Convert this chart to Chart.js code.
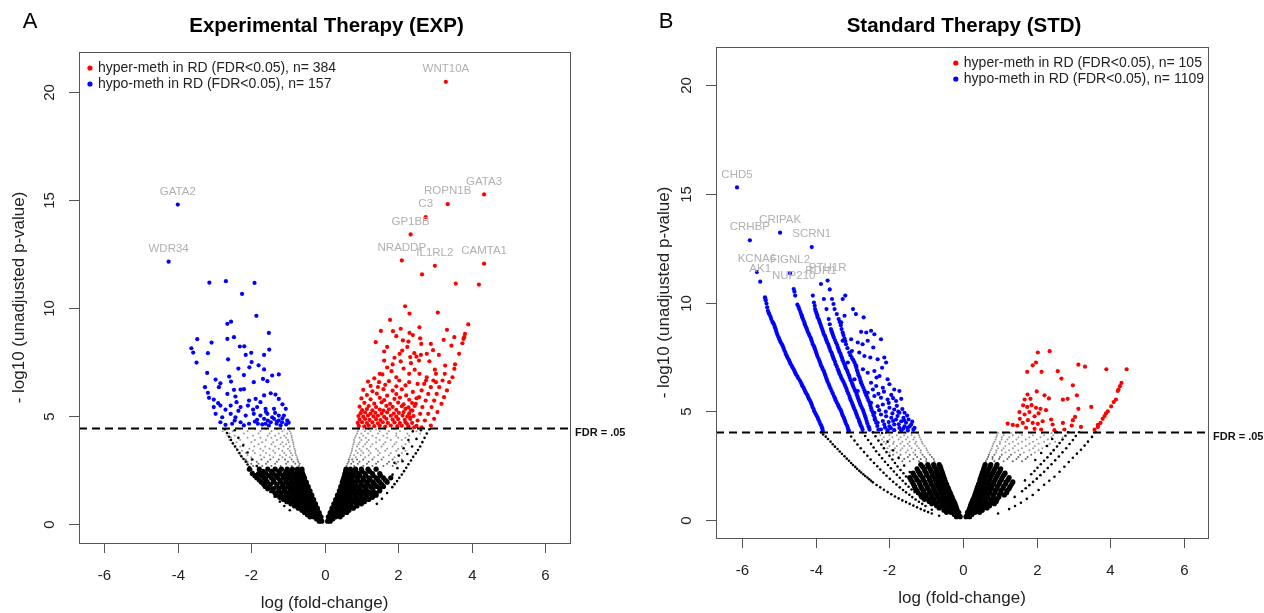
<!DOCTYPE html>
<html>
<head>
<meta charset="utf-8">
<script src="https://cdn.jsdelivr.net/npm/chart.js@4.4.1/dist/chart.umd.min.js"></script>
<style>
  html, body { margin: 0; padding: 0; background: #fff; }
  #wrap { position: relative; width: 1264px; height: 613px; }
  #expChart { position: absolute; left: 0; top: 0; }
  #stdChart { position: absolute; left: 640px; top: 0; }
</style>
</head>
<body>
<div id="wrap">
  <canvas id="expChart" width="640" height="613"></canvas>
  <canvas id="stdChart" width="624" height="613"></canvas>
</div>
<script>
// axis ticks
const xTickVals = [-6, -4, -2, 0, 2, 4, 6];
const yTickVals = [0, 5, 10, 15, 20];

// FDR cut-offs (-log10 p)
const expFdr = 4.45;
const stdFdr = 4.03;

const legendLabels = {
  exp: ["hyper-meth in RD (FDR<0.05), n= 384", "hypo-meth in RD (FDR<0.05), n= 157"],
  std: ["hyper-meth in RD (FDR<0.05), n= 105", "hypo-meth in RD (FDR<0.05), n= 1109"],
};

// labelled genes [name, logFC, -log10 p]
const expGenes = [
  ["WNT10A", 3.30, 20.45], ["GATA3", 4.34, 15.25], ["ROPN1B", 3.35, 14.8], ["C3", 2.75, 14.2],
  ["GP1BB", 2.34, 13.4], ["NRADDP", 2.10, 12.2], ["IL1RL2", 3.00, 11.95], ["CAMTA1", 4.34, 12.05],
  ["GATA2", -4.00, 14.78], ["WDR34", -4.25, 12.14],
];
const stdGenes = [
  ["CHD5", -6.14, 15.29], ["CRHBP", -5.79, 12.86], ["CRIPAK", -4.97, 13.21], ["SCRN1", -4.11, 12.55],
  ["KCNA6", -5.60, 11.40], ["AK1", -5.51, 10.96], ["FIGNL2", -4.70, 11.35], ["NUP210", -4.60, 10.62],
  ["RDH1", -3.86, 10.85], ["PTH1R", -3.68, 11.01],
];

// ---------- EXP ----------
const expHyper = [
  [3.30,20.45],[4.34,15.25],[3.35,14.8],[2.75,14.2],[2.34,13.4],[2.10,12.2],[3.00,11.95],[4.34,12.05],[2.65,11.55],[3.57,11.13],[4.20,11.08],
  [2.19,10.08],[2.31,9.74],[3.08,9.79],[1.78,9.45],[3.91,9.24],[1.53,8.94],[1.86,8.93],[2.07,9.04],[2.31,8.85],[2.58,9.11],[3.33,8.99],
  [1.39,8.42],[2.13,8.50],[2.28,8.45],[2.63,8.34],[2.89,8.34],[3.24,8.53],[3.45,8.26],[3.53,8.65],[3.80,8.65],[3.82,8.80],[3.78,8.57],[3.75,8.37],
  [1.62,7.99],[2.04,7.88],[2.11,8.03],[2.44,7.91],[2.62,7.83],[2.78,7.88],[3.11,7.83],[3.66,7.88],[1.62,7.57],[1.85,7.39],[2.07,7.53],
  [2.33,7.73],[2.35,7.45],[2.57,7.57],[2.85,7.54],[3.28,7.34],[3.55,7.39],[3.53,7.19],[1.50,6.96],[1.57,6.93],[1.82,7.08],[2.30,6.96],
  [2.58,6.96],[2.78,6.80],[1.18,6.60],[1.48,6.57],[1.75,6.62],[2.03,6.65],[2.30,6.57],[2.53,6.49],[2.76,6.65],[3.03,6.57],
  [3.48,6.80],[3.39,6.57],[3.33,6.19],[3.25,5.88],[3.18,5.57],[3.07,5.19],[2.98,4.88],[2.89,4.57],
  [3.27,6.96],[3.21,6.65],[3.12,6.34],[3.05,6.03],[2.98,5.72],[2.91,5.42],[2.82,5.11],[2.73,4.80],[2.64,4.49],
  [3.03,6.96],[2.96,6.65],[2.89,6.34],[2.82,6.03],[2.75,5.72],[2.66,5.42],[2.60,5.11],[2.53,4.80],[2.44,4.49],
  [2.71,6.49],[2.64,6.19],[2.57,5.88],[2.48,5.57],[2.39,5.26],[2.33,4.95],[2.24,4.65],
  [1.05,6.22],[1.30,6.15],[1.60,6.25],[1.85,6.18],[2.10,6.24],[2.40,6.12],
  [1.15,5.98],[1.42,6.04],[1.70,5.95],[1.95,6.02],[2.22,5.96],
  [1.00,5.82],[1.25,5.78],[1.50,5.85],[1.62,5.74],[1.90,5.80],[2.05,5.86],[2.30,5.76],[2.50,5.83],
  [1.08,5.62],[1.35,5.58],[1.55,5.64],[1.78,5.57],[2.00,5.63],[2.15,5.55],[2.38,5.61],
  [0.95,5.44],[1.20,5.47],[1.40,5.42],[1.68,5.48],[1.85,5.43],[2.10,5.46],[2.28,5.41],[2.45,5.47],
  [1.02,5.28],[1.15,5.33],[1.30,5.27],[1.50,5.31],[1.60,5.26],[1.75,5.32],[1.95,5.29],[2.20,5.34],[2.35,5.27],
  [0.98,5.14],[1.10,5.17],[1.25,5.12],[1.38,5.16],[1.55,5.13],[1.70,5.18],[1.88,5.12],[2.02,5.15],[2.15,5.19],[2.30,5.13],
  [0.92,5.01],[1.05,4.98],[1.18,5.03],[1.33,4.99],[1.45,5.02],[1.62,4.97],[1.80,5.02],[1.95,4.98],[2.12,5.03],[2.25,4.99],[2.42,5.01],
  [0.95,4.84],[1.10,4.87],[1.22,4.83],[1.40,4.86],[1.52,4.82],[1.68,4.88],[1.85,4.84],[2.00,4.86],[2.18,4.83],[2.33,4.87],
  [0.90,4.69],[1.02,4.72],[1.15,4.68],[1.30,4.71],[1.45,4.67],[1.58,4.72],[1.72,4.69],[1.90,4.71],[2.05,4.68],[2.20,4.72],[2.38,4.69],
  [0.93,4.55],[1.08,4.53],[1.20,4.57],[1.35,4.54],[1.50,4.56],[1.65,4.52],[1.80,4.57],[1.98,4.54],[2.10,4.56],[2.28,4.53],[2.50,4.55],
  [1.25,6.40],[1.45,6.35],[1.65,6.45],[1.95,6.38],[2.20,6.42],[1.35,6.75],[1.95,6.80],[2.15,7.20],[1.70,7.25],[2.45,7.15],
  [2.50,7.75],[1.90,7.70],[2.25,8.20],[2.60,8.60],[1.70,8.20],[2.95,8.05],[3.00,7.15],[2.40,8.75],[1.95,8.70],
];
const expHypo = [
  [-4.00,14.78],[-4.25,12.14],[-3.14,11.17],[-2.69,11.24],[-1.91,11.16],[-2.25,10.65],[-1.86,9.64],[-2.65,9.27],[-2.55,9.37],
  [-1.52,8.85],[-3.47,8.56],[-3.08,8.40],[-2.65,8.57],[-2.47,8.65],[-3.63,8.14],[-3.58,7.94],[-3.18,7.91],[-2.31,8.22],[-2.19,8.23],
  [-2.15,7.83],[-2.00,7.93],[-1.65,7.83],[-1.51,8.08],[-3.49,7.48],[-2.63,7.63],[-1.99,7.50],[-2.05,7.26],[-1.65,7.16],[-3.20,7.00],
  [-2.60,6.83],[-1.68,6.72],[-1.43,6.88],[-1.25,6.93],[-2.97,6.69],[-2.84,6.52],[-3.26,6.34],[-2.88,6.34],[-2.47,6.22],[-2.29,6.23],
  [-2.20,6.25],[-1.93,6.57],[-1.56,6.62],[-3.18,6.08],[-3.15,5.85],[-3.02,5.77],[-2.65,6.03],[-2.43,5.91],[-2.06,5.72],[-1.88,5.80],
  [-1.65,5.96],[-1.47,6.06],[-1.34,6.00],[-3.02,5.42],[-2.84,5.49],[-2.56,5.49],[-2.29,5.42],[-2.09,5.49],[-1.84,5.42],[-1.61,5.34],
  [-1.38,5.34],[-1.06,5.34],[-2.97,5.11],[-2.79,4.95],[-2.56,5.11],[-2.43,4.95],[-2.15,5.03],[-1.93,5.11],[-1.75,5.03],[-1.56,5.11],
  [-1.43,4.95],[-1.25,5.03],[-1.11,5.03],[-1.02,4.80],[-2.84,4.72],[-2.52,4.65],[-2.29,4.72],[-2.06,4.65],[-1.82,4.65],[-1.61,4.65],
  [-1.47,4.72],[-1.31,4.65],[-1.16,4.72],[-1.52,4.57],[-1.65,4.88],[-1.84,4.83],[-1.25,4.80],[-1.38,4.88],
  [-1.20,4.58],[-1.05,4.62],[-0.98,4.70],[-1.30,4.75],[-1.55,4.80],[-1.70,4.62],[-1.90,4.75],[-2.20,4.58],[-2.45,4.80],[-2.70,4.60],
  [-1.15,4.90],[-1.35,5.15],[-1.60,5.20],[-1.95,5.30],[-2.35,5.25],[-2.70,5.30],[-2.90,5.60],[-2.40,5.65],[-1.75,5.65],[-1.15,5.55],
  [-1.25,5.80],[-2.55,6.60],[-2.20,6.90],[-1.80,7.35],[-2.35,7.20],
];
const expEdge = [
  [-2.72,4.40],[-2.60,4.05],[-2.50,3.75],[-2.38,3.45],[-2.27,3.15],[-2.15,2.90],[-2.05,2.65],[-1.95,2.42],[-1.84,2.18],[-1.72,1.95],
  [-1.60,1.72],[-1.48,1.50],[-1.36,1.28],[-1.22,1.05],[-1.10,0.85],[-0.95,0.65],
  [-2.45,4.35],[-2.35,4.00],[-2.22,3.65],[-2.10,3.32],[-1.98,3.00],[-1.85,2.70],[-1.72,2.42],[-1.60,2.15],[-1.48,1.90],[-1.35,1.65],
  [-2.66,4.22],[-2.55,3.90],[-2.44,3.60],[-2.32,3.30],[-2.21,3.02],[-2.10,2.77],[-2.00,2.53],[-1.90,2.30],
  [2.85,4.40],[2.72,4.00],[2.60,3.60],[2.48,3.28],[2.35,2.95],[2.22,2.62],[2.10,2.30],[1.97,2.00],[1.84,1.72],[1.70,1.45],[1.56,1.18],[1.42,0.95],
  [2.62,4.35],[2.50,3.95],[2.38,3.60],[2.25,3.25],[2.12,2.92],[1.98,2.60],[1.85,2.30],[1.72,2.02],[1.58,1.75],
  [2.40,4.30],[2.28,3.90],[2.15,3.52],[2.02,3.18],[1.90,2.85],
  [2.78,4.20],[2.66,3.80],[2.54,3.44],[2.41,3.12],[2.28,2.78],[2.16,2.46],[2.03,2.15],[1.90,1.86],
];
const expCore = [
  [-0.08,0.15],[-0.15,0.15],
  [-0.10,0.35],[-0.20,0.35],[-0.30,0.35],[-0.40,0.35],
  [-0.15,0.55],[-0.25,0.55],[-0.35,0.55],[-0.45,0.55],[-0.55,0.55],
  [-0.20,0.75],[-0.30,0.75],[-0.40,0.75],[-0.50,0.75],[-0.60,0.75],[-0.72,0.75],
  [-0.25,0.95],[-0.35,0.95],[-0.45,0.95],[-0.55,0.95],[-0.65,0.95],[-0.78,0.95],[-0.92,0.95],
  [-0.30,1.15],[-0.40,1.15],[-0.50,1.15],[-0.60,1.15],[-0.72,1.15],[-0.85,1.15],[-1.00,1.15],[-1.12,1.15],
  [-0.35,1.35],[-0.45,1.35],[-0.55,1.35],[-0.65,1.35],[-0.77,1.35],[-0.90,1.35],[-1.05,1.35],[-1.20,1.35],[-1.32,1.35],
  [-0.40,1.55],[-0.50,1.55],[-0.60,1.55],[-0.70,1.55],[-0.82,1.55],[-0.95,1.55],[-1.10,1.55],[-1.25,1.55],[-1.42,1.55],
  [-0.45,1.75],[-0.55,1.75],[-0.65,1.75],[-0.76,1.75],[-0.88,1.75],[-1.00,1.75],[-1.15,1.75],[-1.30,1.75],[-1.50,1.75],[-1.62,1.75],
  [-0.50,1.95],[-0.60,1.95],[-0.70,1.95],[-0.80,1.95],[-0.92,1.95],[-1.05,1.95],[-1.20,1.95],[-1.38,1.95],[-1.56,1.95],[-1.72,1.95],
  [-0.55,2.15],[-0.65,2.15],[-0.75,2.15],[-0.86,2.15],[-1.00,2.15],[-1.12,2.15],[-1.28,2.15],[-1.45,2.15],[-1.65,2.15],[-1.85,2.15],
  [-0.60,2.35],[-0.70,2.35],[-0.82,2.35],[-0.95,2.35],[-1.08,2.35],[-1.22,2.35],[-1.40,2.35],[-1.60,2.35],[-1.80,2.35],[-1.97,2.35],
  [-0.62,2.55],[-0.74,2.55],[-0.88,2.55],[-1.02,2.55],[-1.18,2.55],[-1.35,2.55],[-1.55,2.55],[-1.78,2.55],[-2.05,2.55],
  [0.08,0.15],[0.15,0.15],
  [0.10,0.35],[0.20,0.35],[0.30,0.35],[0.42,0.35],
  [0.15,0.55],[0.25,0.55],[0.35,0.55],[0.47,0.55],[0.60,0.55],
  [0.20,0.75],[0.30,0.75],[0.40,0.75],[0.52,0.75],[0.65,0.75],[0.78,0.75],
  [0.25,0.95],[0.35,0.95],[0.46,0.95],[0.58,0.95],[0.70,0.95],[0.85,0.95],[1.00,0.95],
  [0.30,1.15],[0.40,1.15],[0.50,1.15],[0.62,1.15],[0.75,1.15],[0.90,1.15],[1.05,1.15],[1.20,1.15],
  [0.35,1.35],[0.45,1.35],[0.55,1.35],[0.68,1.35],[0.82,1.35],[0.97,1.35],[1.12,1.35],[1.28,1.35],[1.40,1.35],
  [0.40,1.55],[0.50,1.55],[0.60,1.55],[0.72,1.55],[0.86,1.55],[1.00,1.55],[1.16,1.55],[1.32,1.55],[1.50,1.55],
  [0.44,1.75],[0.54,1.75],[0.65,1.75],[0.78,1.75],[0.92,1.75],[1.08,1.75],[1.25,1.75],[1.42,1.75],[1.60,1.75],
  [0.48,1.95],[0.58,1.95],[0.70,1.95],[0.84,1.95],[0.98,1.95],[1.14,1.95],[1.32,1.95],[1.50,1.95],[1.70,1.95],
  [0.52,2.15],[0.62,2.15],[0.74,2.15],[0.88,2.15],[1.04,2.15],[1.20,2.15],[1.40,2.15],[1.60,2.15],[1.80,2.15],
  [0.55,2.35],[0.66,2.35],[0.78,2.35],[0.92,2.35],[1.10,2.35],[1.30,2.35],[1.50,2.35],
  [0.58,2.55],[0.70,2.55],[0.84,2.55],[1.00,2.55],[1.18,2.55],[1.40,2.55],
];
const expCoreMid = [
  [-0.12,0.25],[-0.22,0.25],
  [-0.15,0.45],[-0.25,0.45],[-0.36,0.45],[-0.47,0.45],
  [-0.20,0.65],[-0.30,0.65],[-0.40,0.65],[-0.50,0.65],[-0.62,0.65],
  [-0.25,0.85],[-0.35,0.85],[-0.45,0.85],[-0.56,0.85],[-0.68,0.85],[-0.82,0.85],
  [-0.30,1.05],[-0.40,1.05],[-0.50,1.05],[-0.62,1.05],[-0.74,1.05],[-0.88,1.05],[-1.03,1.05],
  [-0.35,1.25],[-0.45,1.25],[-0.55,1.25],[-0.67,1.25],[-0.80,1.25],[-0.95,1.25],[-1.10,1.25],[-1.22,1.25],
  [-0.40,1.45],[-0.50,1.45],[-0.62,1.45],[-0.74,1.45],[-0.88,1.45],[-1.02,1.45],[-1.18,1.45],[-1.35,1.45],
  [-0.45,1.65],[-0.55,1.65],[-0.66,1.65],[-0.78,1.65],[-0.92,1.65],[-1.08,1.65],[-1.24,1.65],[-1.40,1.65],[-1.55,1.65],
  [-0.50,1.85],[-0.60,1.85],[-0.72,1.85],[-0.85,1.85],[-0.98,1.85],[-1.13,1.85],[-1.30,1.85],[-1.48,1.85],[-1.66,1.85],
  [-0.55,2.05],[-0.66,2.05],[-0.78,2.05],[-0.92,2.05],[-1.06,2.05],[-1.22,2.05],[-1.40,2.05],[-1.60,2.05],[-1.78,2.05],
  [-0.58,2.25],[-0.70,2.25],[-0.83,2.25],[-0.97,2.25],[-1.14,2.25],[-1.32,2.25],[-1.52,2.25],[-1.72,2.25],[-1.90,2.25],
  [-0.62,2.45],[-0.75,2.45],[-0.90,2.45],[-1.05,2.45],[-1.25,2.45],[-1.45,2.45],[-1.68,2.45],
  [0.12,0.25],[0.22,0.25],
  [0.15,0.45],[0.25,0.45],[0.36,0.45],[0.48,0.45],
  [0.20,0.65],[0.30,0.65],[0.41,0.65],[0.53,0.65],[0.66,0.65],
  [0.25,0.85],[0.35,0.85],[0.46,0.85],[0.58,0.85],[0.72,0.85],[0.88,0.85],
  [0.30,1.05],[0.40,1.05],[0.52,1.05],[0.65,1.05],[0.80,1.05],[0.95,1.05],[1.08,1.05],
  [0.35,1.25],[0.45,1.25],[0.57,1.25],[0.70,1.25],[0.85,1.25],[1.00,1.25],[1.15,1.25],[1.30,1.25],
  [0.40,1.45],[0.50,1.45],[0.62,1.45],[0.76,1.45],[0.90,1.45],[1.06,1.45],[1.22,1.45],[1.40,1.45],
  [0.44,1.65],[0.55,1.65],[0.67,1.65],[0.80,1.65],[0.95,1.65],[1.12,1.65],[1.30,1.65],[1.50,1.65],
  [0.48,1.85],[0.58,1.85],[0.70,1.85],[0.84,1.85],[1.00,1.85],[1.18,1.85],[1.36,1.85],[1.55,1.85],
  [0.50,2.05],[0.62,2.05],[0.75,2.05],[0.90,2.05],[1.06,2.05],[1.24,2.05],[1.45,2.05],[1.65,2.05],
  [0.54,2.25],[0.66,2.25],[0.80,2.25],[0.95,2.25],[1.12,2.25],[1.32,2.25],[1.52,2.25],
  [0.57,2.45],[0.70,2.45],[0.85,2.45],[1.02,2.45],[1.22,2.45],
];
const expSparse = [
  [-0.70,2.7],[-0.90,2.7],[-1.20,2.7],[-1.45,2.7],[-1.70,2.7],[-1.95,2.7],
  [-0.72,2.9],[-0.85,2.9],[-1.00,2.9],[-1.30,2.9],[-1.55,2.9],[-1.85,2.9],[-2.10,2.9],
  [-0.75,3.1],[-0.95,3.1],[-1.15,3.1],[-1.40,3.1],[-1.65,3.1],[-2.00,3.1],[-2.25,3.1],
  [-0.80,3.3],[-0.92,3.3],[-1.10,3.3],[-1.35,3.3],[-1.60,3.3],[-1.90,3.3],[-2.15,3.3],[-2.35,3.3],
  [-0.82,3.5],[-1.00,3.5],[-1.25,3.5],[-1.50,3.5],[-1.75,3.5],[-2.05,3.5],[-2.40,3.5],
  [-0.85,3.7],[-1.05,3.7],[-1.20,3.7],[-1.45,3.7],[-1.80,3.7],[-2.20,3.7],[-2.50,3.7],
  [-0.88,3.9],[-1.00,3.9],[-1.30,3.9],[-1.60,3.9],[-1.90,3.9],[-2.30,3.9],[-2.60,3.9],
  [-0.90,4.1],[-1.10,4.1],[-1.35,4.1],[-1.55,4.1],[-1.95,4.1],[-2.45,4.1],[-2.65,4.1],
  [-0.95,4.3],[-1.15,4.3],[-1.45,4.3],[-1.75,4.3],[-2.10,4.3],[-2.50,4.3],[-2.78,4.3],
  [0.60,2.7],[0.80,2.7],[1.05,2.7],[1.30,2.7],[1.60,2.7],[1.85,2.7],
  [0.65,2.9],[0.78,2.9],[0.95,2.9],[1.20,2.9],[1.45,2.9],[1.75,2.9],[2.00,2.9],
  [0.68,3.1],[0.85,3.1],[1.10,3.1],[1.35,3.1],[1.60,3.1],[1.90,3.1],
  [0.72,3.3],[0.90,3.3],[1.05,3.3],[1.25,3.3],[1.50,3.3],[1.80,3.3],[2.10,3.3],
  [0.75,3.5],[0.95,3.5],[1.15,3.5],[1.40,3.5],[1.70,3.5],[2.00,3.5],
  [0.78,3.7],[0.92,3.7],[1.10,3.7],[1.30,3.7],[1.60,3.7],[1.90,3.7],[2.20,3.7],
  [0.80,3.9],[1.00,3.9],[1.20,3.9],[1.50,3.9],[1.80,3.9],[2.10,3.9],
  [0.85,4.1],[1.05,4.1],[1.30,4.1],[1.60,4.1],[1.95,4.1],[2.30,4.1],
  [0.90,4.3],[1.10,4.3],[1.25,4.3],[1.50,4.3],[1.75,4.3],[2.05,4.3],[2.50,4.3],
];
const expSparseMid = [
  [-0.68,2.8],[-0.80,2.8],[-1.05,2.8],[-1.35,2.8],[-1.60,2.8],[-1.80,2.8],[-2.00,2.8],
  [-0.74,3.0],[-0.90,3.0],[-1.08,3.0],[-1.25,3.0],[-1.48,3.0],[-1.72,3.0],[-1.95,3.0],[-2.15,3.0],
  [-0.78,3.2],[-0.88,3.2],[-1.05,3.2],[-1.22,3.2],[-1.50,3.2],[-1.75,3.2],[-2.10,3.2],[-2.30,3.2],
  [-0.80,3.4],[-0.95,3.4],[-1.15,3.4],[-1.40,3.4],[-1.68,3.4],[-1.95,3.4],[-2.25,3.4],
  [-0.84,3.6],[-0.95,3.6],[-1.12,3.6],[-1.35,3.6],[-1.62,3.6],[-1.92,3.6],[-2.30,3.6],[-2.45,3.6],
  [-0.86,3.8],[-0.98,3.8],[-1.15,3.8],[-1.40,3.8],[-1.70,3.8],[-2.00,3.8],[-2.40,3.8],
  [-0.90,4.0],[-1.05,4.0],[-1.20,4.0],[-1.45,4.0],[-1.75,4.0],[-2.10,4.0],[-2.35,4.0],[-2.55,4.0],
  [-0.92,4.2],[-1.02,4.2],[-1.25,4.2],[-1.50,4.2],[-1.80,4.2],[-2.20,4.2],[-2.60,4.2],
  [-0.98,4.4],[-1.10,4.4],[-1.30,4.4],[-1.60,4.4],[-1.90,4.4],[-2.30,4.4],[-2.65,4.4],
  [0.62,2.8],[0.72,2.8],[0.90,2.8],[1.15,2.8],[1.40,2.8],[1.70,2.8],[1.95,2.8],
  [0.66,3.0],[0.75,3.0],[0.88,3.0],[1.05,3.0],[1.30,3.0],[1.55,3.0],[1.85,3.0],[2.10,3.0],
  [0.70,3.2],[0.80,3.2],[0.98,3.2],[1.20,3.2],[1.45,3.2],[1.75,3.2],[2.00,3.2],
  [0.74,3.4],[0.85,3.4],[1.00,3.4],[1.20,3.4],[1.45,3.4],[1.65,3.4],[1.95,3.4],[2.20,3.4],
  [0.76,3.6],[0.88,3.6],[1.05,3.6],[1.25,3.6],[1.55,3.6],[1.85,3.6],[2.10,3.6],
  [0.80,3.8],[0.95,3.8],[1.15,3.8],[1.40,3.8],[1.65,3.8],[1.95,3.8],[2.30,3.8],
  [0.82,4.0],[0.95,4.0],[1.12,4.0],[1.40,4.0],[1.70,4.0],[2.00,4.0],[2.20,4.0],
  [0.88,4.2],[1.00,4.2],[1.18,4.2],[1.45,4.2],[1.70,4.2],[1.95,4.2],[2.25,4.2],[2.60,4.2],
  [0.92,4.4],[1.05,4.4],[1.20,4.4],[1.40,4.4],[1.65,4.4],[1.90,4.4],[2.20,4.4],[2.40,4.4],
];

// ---------- STD ----------
const stdHyper = [
  [2.03,7.70],[2.35,7.76],[1.98,7.24],[1.89,7.11],[1.74,6.81],[2.13,6.81],[3.13,7.14],[3.31,7.05],[3.89,6.93],[4.44,6.93],
  [2.57,6.84],[2.67,6.50],[2.98,6.19],[2.00,5.91],[1.75,5.77],[2.21,5.73],[2.33,5.59],[2.71,5.53],[2.84,5.57],[3.09,5.73],
  [4.22,6.00],[4.20,5.93],[4.15,5.54],[4.09,5.42],[1.67,5.54],[1.83,5.57],[1.63,5.27],[1.74,5.20],[1.86,5.28],[1.98,5.16],
  [2.10,5.11],[2.25,5.05],[3.13,5.11],[3.48,5.20],[3.93,5.00],[3.88,4.90],[3.79,4.65],[3.73,4.46],[3.66,4.28],[1.53,4.96],
  [1.67,4.85],[1.80,4.96],[1.94,4.77],[2.05,4.90],[1.54,4.65],[1.62,4.46],[1.76,4.59],[1.89,4.46],[2.03,4.42],[2.16,4.54],
  [2.39,4.62],[2.43,4.39],[2.71,4.46],[2.98,4.59],[3.04,4.74],[2.95,4.34],[3.20,4.28],[1.21,4.43],[1.35,4.37],[1.47,4.34],
  [1.71,4.24],[1.94,4.19],[2.12,4.16],[2.48,4.13],[2.75,4.16],[3.57,4.16],[3.66,4.37],[4.30,6.30],[4.26,6.15],[4.02,5.22],[3.84,4.78],
];
const stdHypo = [
  [-6.14,15.29],[-5.79,12.86],[-4.97,13.21],[-4.11,12.55],
  [-5.60,11.40],[-5.51,10.96],[-5.38,10.24],[-5.36,10.10],[-5.34,9.95],[-5.30,9.62],[-5.26,9.45],[-5.21,9.24],[-5.18,9.12],[-5.14,9.01],
  [-5.11,8.85],[-5.08,8.70],[-5.04,8.50],[-4.99,8.31],[-4.95,8.16],[-4.90,8.01],[-4.86,7.82],[-4.81,7.62],[-4.77,7.47],[-4.72,7.31],
  [-4.68,7.16],[-4.63,7.01],[-4.58,6.85],[-4.54,6.70],[-4.47,6.50],[-4.40,6.31],[-4.36,6.15],[-4.31,6.00],[-4.27,5.85],[-4.22,5.70],
  [-4.18,5.55],[-4.13,5.39],[-4.09,5.20],[-4.04,5.00],[-3.98,4.80],[-3.93,4.62],[-3.87,4.40],[-3.83,4.25],[-3.81,4.10],
  [-4.70,11.35],[-4.60,10.62],[-4.58,10.50],[-4.56,10.32],[-4.50,9.90],[-4.45,9.70],[-4.40,9.47],[-4.37,9.32],[-4.33,9.16],[-4.30,9.00],
  [-4.26,8.85],[-4.22,8.66],[-4.17,8.47],[-4.12,8.28],[-4.08,8.08],[-4.03,7.90],[-3.99,7.70],[-3.95,7.50],[-3.90,7.31],[-3.86,7.12],
  [-3.81,6.93],[-3.76,6.74],[-3.72,6.54],[-3.68,6.35],[-3.63,6.16],[-3.57,5.93],[-3.51,5.70],[-3.46,5.50],[-3.40,5.31],[-3.36,5.15],
  [-3.31,5.00],[-3.27,4.80],[-3.22,4.62],[-3.18,4.42],[-3.13,4.23],[-3.10,4.10],
  [-4.08,10.32],[-4.05,10.00],[-4.02,9.70],[-3.98,9.50],[-3.95,9.32],[-3.90,9.12],[-3.86,8.93],[-3.82,8.74],[-3.78,8.54],[-3.73,8.35],
  [-3.69,8.16],[-3.64,7.96],[-3.60,7.77],[-3.55,7.58],[-3.51,7.39],[-3.46,7.16],[-3.40,6.93],[-3.36,6.74],[-3.31,6.54],[-3.25,6.35],
  [-3.20,6.16],[-3.15,5.93],[-3.09,5.70],[-3.05,5.50],[-3.00,5.31],[-2.96,5.12],[-2.91,4.93],[-2.87,4.74],[-2.82,4.54],[-2.78,4.35],[-2.73,4.16],
  [-3.86,10.85],[-3.78,10.16],[-3.65,9.24],[-3.59,8.78],[-3.55,8.58],[-3.51,8.39],[-3.45,8.15],[-3.40,7.93],[-3.36,7.74],[-3.31,7.54],
  [-3.27,7.35],[-3.22,7.16],[-3.18,6.96],[-3.13,6.77],[-3.08,6.54],[-3.02,6.31],[-2.98,6.12],[-2.93,5.93],[-2.88,5.74],[-2.84,5.54],
  [-2.80,5.35],[-2.75,5.16],[-2.70,4.96],[-2.66,4.77],[-2.62,4.55],[-2.57,4.31],[-2.54,4.15],
  [-3.68,11.01],[-3.56,10.16],[-3.49,9.70],[-3.38,9.24],[-3.32,8.95],[-3.27,8.62],[-3.22,8.35],[-3.18,8.08],[-3.09,7.70],[-3.02,7.45],
  [-2.95,7.24],[-2.90,7.00],[-2.86,6.77],[-2.81,6.55],[-2.77,6.31],[-2.71,6.08],[-2.66,5.85],[-2.60,5.62],[-2.54,5.39],[-2.50,5.15],
  [-2.45,4.93],[-2.40,4.70],[-2.36,4.47],[-2.30,4.16],
  [-3.20,10.32],[-3.27,10.16],[-2.99,9.70],[-2.91,9.47],[-2.70,9.32],[-3.22,9.39],[-3.31,9.09],[-2.77,8.65],[-2.63,8.62],[-2.50,8.70],
  [-2.41,8.54],[-2.23,8.31],[-3.27,8.24],[-3.04,8.31],[-2.86,8.16],[-2.73,8.08],[-2.59,8.24],[-2.44,7.93],[-3.02,7.77],[-2.82,7.70],
  [-2.68,7.54],[-2.52,7.47],[-2.32,7.39],[-2.14,7.47],[-2.09,7.24],[-3.13,7.24],[-2.90,7.08],[-2.72,6.93],[-2.59,6.77],[-2.41,6.85],
  [-2.27,6.62],[-2.05,6.47],[-2.00,6.24],[-2.95,6.47],[-2.77,6.31],[-2.50,6.31],[-2.36,6.16],[-2.18,6.08],[-1.87,6.00],[-1.73,5.93],
  [-2.86,5.93],[-2.59,5.85],[-2.41,5.70],[-2.23,5.62],[-2.05,5.54],[-1.82,5.47],[-1.68,5.57],[-2.50,5.39],[-2.32,5.23],[-2.18,5.31],
  [-2.00,5.16],[-1.87,5.08],[-1.73,4.93],[-1.59,4.93],[-2.41,4.93],[-2.23,4.85],[-2.09,4.77],[-1.95,4.70],[-1.82,4.62],[-1.68,4.54],
  [-1.55,4.47],[-1.41,4.39],[-1.32,4.23],[-2.32,4.47],[-2.14,4.39],[-2.00,4.31],[-1.87,4.39],[-1.73,4.23],[-1.59,4.31],[-1.50,4.23],
  [-2.23,4.16],[-2.05,4.13],[-1.87,4.13],[-1.68,4.11],[-1.50,4.11],
  [-2.20,7.00],[-2.35,6.55],[-2.15,5.90],[-1.95,5.75],[-2.28,5.05],[-2.10,4.98],[-1.92,4.90],[-1.78,4.78],[-1.62,4.70],[-1.48,4.62],
  [-1.38,4.52],[-2.40,4.62],[-2.18,4.55],[-2.02,4.50],[-1.90,4.55],[-1.75,4.40],[-1.62,4.20],[-1.45,4.30],[-1.35,4.15],[-1.96,4.22],
  [-2.12,4.25],[-1.80,5.25],[-1.65,5.10],[-1.52,4.80],[-2.02,5.38],[-1.90,5.60],[-2.30,5.80],[-2.45,6.00],[-1.76,4.98],[-1.60,4.58],
];
const stdHypoMid = [
  [-5.37,10.17],[-5.32,9.78],[-5.28,9.53],[-5.23,9.34],[-5.16,9.06],[-5.12,8.93],[-5.09,8.78],[-5.06,8.60],[-5.01,8.40],[-4.97,8.23],
  [-4.92,8.08],[-4.88,7.92],[-4.83,7.72],[-4.79,7.55],[-4.74,7.39],[-4.70,7.24],[-4.65,7.08],[-4.60,6.93],[-4.56,6.78],[-4.50,6.60],
  [-4.43,6.40],[-4.38,6.23],[-4.33,6.08],[-4.29,5.92],[-4.24,5.78],[-4.20,5.62],[-4.15,5.47],[-4.11,5.30],[-4.06,5.10],[-4.01,4.90],
  [-3.95,4.71],[-3.90,4.51],[-3.85,4.33],[-3.82,4.18],
  [-4.47,9.80],[-4.42,9.58],[-4.38,9.40],[-4.35,9.24],[-4.31,9.08],[-4.28,8.92],[-4.24,8.76],[-4.19,8.56],[-4.14,8.38],[-4.10,8.18],
  [-4.05,7.99],[-4.01,7.80],[-3.97,7.60],[-3.92,7.40],[-3.88,7.22],[-3.83,7.02],[-3.78,6.84],[-3.74,6.64],[-3.70,6.45],[-3.65,6.25],
  [-3.60,6.05],[-3.54,5.82],[-3.48,5.60],[-3.43,5.40],[-3.38,5.23],[-3.33,5.08],[-3.29,4.90],[-3.24,4.71],[-3.20,4.52],[-3.15,4.33],[-3.12,4.16],
  [-4.03,9.85],[-4.00,9.60],[-3.96,9.41],[-3.92,9.22],[-3.88,9.03],[-3.84,8.84],[-3.80,8.64],[-3.75,8.45],[-3.71,8.26],[-3.66,8.06],
  [-3.62,7.87],[-3.57,7.68],[-3.53,7.48],[-3.48,7.28],[-3.43,7.05],[-3.38,6.84],[-3.33,6.64],[-3.28,6.45],[-3.22,6.25],[-3.17,6.05],
  [-3.12,5.82],[-3.07,5.60],[-3.02,5.40],[-2.98,5.22],[-2.93,5.03],[-2.89,4.84],[-2.84,4.64],[-2.80,4.45],[-2.75,4.26],
  [-3.71,9.70],[-3.62,9.00],[-3.57,8.68],[-3.53,8.48],[-3.48,8.27],[-3.42,8.04],[-3.38,7.84],[-3.33,7.64],[-3.29,7.45],[-3.25,7.26],
  [-3.20,7.06],[-3.15,6.87],[-3.10,6.66],[-3.05,6.43],[-3.00,6.22],[-2.95,6.02],[-2.90,5.84],[-2.86,5.64],[-2.82,5.45],[-2.78,5.26],
  [-2.72,5.06],[-2.68,4.87],[-2.64,4.66],[-2.60,4.43],[-2.55,4.23],
  [-3.62,10.60],[-3.52,9.93],[-3.43,9.47],[-3.35,9.10],[-3.30,8.78],[-3.25,8.50],[-3.20,8.22],[-3.14,7.90],[-3.06,7.58],[-2.98,7.35],
  [-2.92,7.12],[-2.88,6.88],[-2.84,6.66],[-2.79,6.43],[-2.74,6.20],[-2.68,5.96],[-2.63,5.74],[-2.57,5.50],[-2.52,5.27],[-2.48,5.04],
  [-2.43,4.82],[-2.38,4.58],[-2.33,4.32],
];
const stdEdge = [
  [-3.86,4.03],[-3.73,3.83],[-3.60,3.60],[-3.48,3.37],[-3.35,3.15],[-3.22,2.93],[-3.10,2.72],[-2.99,2.53],[-2.88,2.35],[-2.77,2.18],
  [-2.66,2.02],[-2.55,1.87],[-2.45,1.73],[-2.25,1.50],[-2.05,1.28],[-1.85,1.08],[-1.65,0.90],[-1.45,0.74],[-1.25,0.58],[-1.05,0.43],
  [-0.85,0.30],[-0.65,0.19],
  [-3.80,3.93],[-3.67,3.72],[-3.54,3.48],[-3.41,3.26],[-3.29,3.04],[-3.16,2.82],[-3.04,2.62],[-2.93,2.44],[-2.82,2.26],[-2.71,2.10],
  [-2.60,1.95],[-2.50,1.80],[-2.35,1.61],[-2.15,1.39],[-1.95,1.18],[-1.75,0.99],[-1.55,0.82],[-1.35,0.66],[-1.15,0.50],[-0.95,0.36],
  [-3.13,4.03],[-2.95,3.65],[-2.78,3.30],[-2.60,2.95],[-2.42,2.62],[-2.25,2.32],[-2.08,2.03],[-1.90,1.76],[-1.72,1.50],[-1.55,1.27],
  [-1.38,1.05],[-1.20,0.84],[-1.02,0.64],[-0.85,0.47],
  [-3.04,3.84],[-2.87,3.47],[-2.69,3.12],[-2.51,2.78],[-2.33,2.47],[-2.16,2.17],[-1.99,1.89],[-1.81,1.63],[-1.63,1.38],[-1.46,1.16],
  [-1.29,0.94],[-1.11,0.74],
  [-2.73,4.03],[-2.58,3.68],[-2.43,3.33],[-2.28,3.00],[-2.12,2.68],[-1.96,2.38],[-1.80,2.08],[-1.64,1.80],[-1.48,1.53],[-1.32,1.28],[-1.16,1.04],
  [-2.66,3.86],[-2.50,3.50],[-2.36,3.16],[-2.20,2.84],[-2.04,2.53],[-1.88,2.23],[-1.72,1.94],[-1.56,1.66],[-1.40,1.40],
  [-2.45,4.03],[-2.30,3.65],[-2.15,3.30],[-2.00,2.95],[-1.85,2.62],[-1.70,2.30],[-1.55,2.00],[-1.40,1.72],
  [-2.38,3.85],[-2.22,3.47],[-2.08,3.12],[-1.92,2.78],[-1.78,2.46],[-1.62,2.15],
  [-2.20,4.00],[-2.05,3.60],[-1.90,3.20],[-1.75,2.85],[-1.60,2.50],[-1.45,2.20],
  [3.60,4.03],[3.39,3.60],[3.20,3.23],[2.98,2.86],[2.75,2.45],[2.48,1.99],[2.20,1.62],[1.89,1.15],[1.57,0.79],[1.25,0.50],[0.95,0.30],
  [3.50,3.82],[3.30,3.42],[3.09,3.05],[2.87,2.66],[2.62,2.22],[2.34,1.80],[2.05,1.38],[1.73,0.97],[1.41,0.64],
  [3.15,4.03],[2.98,3.68],[2.80,3.30],[2.60,2.92],[2.40,2.56],[2.20,2.22],[2.00,1.90],[1.80,1.60],[1.60,1.32],[1.40,1.06],
  [3.06,3.86],[2.89,3.49],[2.70,3.11],[2.50,2.74],[2.30,2.39],[2.10,2.06],[1.90,1.75],[1.70,1.46],
  [2.85,4.03],[2.70,3.70],[2.55,3.38],[2.38,3.05],[2.20,2.72],[2.02,2.40],[1.85,2.10],[1.68,1.82],
  [2.78,3.87],[2.62,3.54],[2.46,3.21],[2.29,2.88],[2.11,2.56],[1.94,2.25],
  [2.55,4.03],[2.42,3.72],[2.28,3.40],[2.12,3.08],[1.96,2.76],
];
const stdCore = [
  [-0.08,0.15],[-0.18,0.15],
  [-0.12,0.35],[-0.22,0.35],[-0.33,0.35],[-0.45,0.35],
  [-0.18,0.55],[-0.28,0.55],[-0.40,0.55],[-0.52,0.55],[-0.65,0.55],
  [-0.22,0.75],[-0.33,0.75],[-0.45,0.75],[-0.58,0.75],[-0.72,0.75],[-0.85,0.75],
  [-0.28,0.95],[-0.40,0.95],[-0.52,0.95],[-0.65,0.95],[-0.80,0.95],[-0.95,0.95],[-1.05,0.95],
  [-0.33,1.15],[-0.45,1.15],[-0.58,1.15],[-0.72,1.15],[-0.86,1.15],[-1.00,1.15],[-1.15,1.15],
  [-0.38,1.35],[-0.50,1.35],[-0.63,1.35],[-0.78,1.35],[-0.92,1.35],[-1.08,1.35],[-1.25,1.35],
  [-0.43,1.55],[-0.55,1.55],[-0.68,1.55],[-0.82,1.55],[-0.98,1.55],[-1.15,1.55],[-1.32,1.55],
  [-0.48,1.75],[-0.60,1.75],[-0.73,1.75],[-0.88,1.75],[-1.04,1.75],[-1.20,1.75],[-1.38,1.75],
  [-0.52,1.95],[-0.65,1.95],[-0.78,1.95],[-0.93,1.95],[-1.10,1.95],[-1.28,1.95],[-1.45,1.95],
  [-0.56,2.15],[-0.70,2.15],[-0.84,2.15],[-1.00,2.15],[-1.18,2.15],[-1.36,2.15],
  [-0.60,2.35],[-0.74,2.35],[-0.90,2.35],[-1.06,2.35],[-1.25,2.35],
  [-0.65,2.55],[-0.80,2.55],[-0.96,2.55],[-1.15,2.55],
  [0.08,0.15],[0.18,0.15],
  [0.12,0.35],[0.22,0.35],[0.33,0.35],[0.45,0.35],
  [0.18,0.55],[0.28,0.55],[0.40,0.55],[0.52,0.55],[0.65,0.55],
  [0.22,0.75],[0.33,0.75],[0.45,0.75],[0.58,0.75],[0.72,0.75],[0.85,0.75],
  [0.27,0.95],[0.38,0.95],[0.50,0.95],[0.63,0.95],[0.77,0.95],[0.92,0.95],
  [0.32,1.15],[0.43,1.15],[0.55,1.15],[0.68,1.15],[0.82,1.15],[0.98,1.15],[1.12,1.15],
  [0.36,1.35],[0.48,1.35],[0.60,1.35],[0.73,1.35],[0.88,1.35],[1.03,1.35],[1.20,1.35],
  [0.40,1.55],[0.52,1.55],[0.65,1.55],[0.78,1.55],[0.93,1.55],[1.10,1.55],[1.28,1.55],
  [0.45,1.75],[0.57,1.75],[0.70,1.75],[0.84,1.75],[1.00,1.75],[1.17,1.75],[1.35,1.75],
  [0.48,1.95],[0.60,1.95],[0.74,1.95],[0.90,1.95],[1.06,1.95],[1.25,1.95],
  [0.52,2.15],[0.65,2.15],[0.80,2.15],[0.96,2.15],[1.14,2.15],
  [0.56,2.35],[0.70,2.35],[0.86,2.35],[1.02,2.35],
  [0.60,2.55],[0.75,2.55],[0.92,2.55],
];
const stdCoreMid = [
  [-0.12,0.25],[-0.24,0.25],
  [-0.16,0.45],[-0.27,0.45],[-0.39,0.45],[-0.52,0.45],
  [-0.20,0.65],[-0.31,0.65],[-0.44,0.65],[-0.58,0.65],[-0.72,0.65],
  [-0.25,0.85],[-0.37,0.85],[-0.50,0.85],[-0.64,0.85],[-0.78,0.85],[-0.92,0.85],
  [-0.30,1.05],[-0.42,1.05],[-0.56,1.05],[-0.70,1.05],[-0.85,1.05],[-1.00,1.05],[-1.12,1.05],
  [-0.35,1.25],[-0.48,1.25],[-0.61,1.25],[-0.75,1.25],[-0.90,1.25],[-1.06,1.25],[-1.22,1.25],
  [-0.40,1.45],[-0.52,1.45],[-0.66,1.45],[-0.80,1.45],[-0.96,1.45],[-1.12,1.45],[-1.30,1.45],
  [-0.45,1.65],[-0.58,1.65],[-0.71,1.65],[-0.86,1.65],[-1.02,1.65],[-1.18,1.65],[-1.35,1.65],
  [-0.50,1.85],[-0.62,1.85],[-0.76,1.85],[-0.91,1.85],[-1.08,1.85],[-1.25,1.85],[-1.42,1.85],
  [-0.54,2.05],[-0.67,2.05],[-0.82,2.05],[-0.98,2.05],[-1.15,2.05],[-1.33,2.05],
  [-0.58,2.25],[-0.72,2.25],[-0.87,2.25],[-1.04,2.25],[-1.22,2.25],
  [-0.62,2.45],[-0.78,2.45],[-0.94,2.45],[-1.10,2.45],
  [0.12,0.25],[0.24,0.25],
  [0.16,0.45],[0.27,0.45],[0.39,0.45],[0.52,0.45],
  [0.20,0.65],[0.31,0.65],[0.44,0.65],[0.58,0.65],[0.72,0.65],
  [0.25,0.85],[0.36,0.85],[0.48,0.85],[0.62,0.85],[0.76,0.85],[0.90,0.85],
  [0.30,1.05],[0.41,1.05],[0.54,1.05],[0.67,1.05],[0.82,1.05],[0.97,1.05],
  [0.34,1.25],[0.46,1.25],[0.58,1.25],[0.72,1.25],[0.86,1.25],[1.02,1.25],[1.18,1.25],
  [0.38,1.45],[0.50,1.45],[0.63,1.45],[0.77,1.45],[0.92,1.45],[1.08,1.45],[1.25,1.45],
  [0.42,1.65],[0.55,1.65],[0.68,1.65],[0.82,1.65],[0.98,1.65],[1.15,1.65],[1.32,1.65],
  [0.46,1.85],[0.58,1.85],[0.72,1.85],[0.87,1.85],[1.04,1.85],[1.22,1.85],
  [0.50,2.05],[0.63,2.05],[0.77,2.05],[0.93,2.05],[1.10,2.05],
  [0.54,2.25],[0.68,2.25],[0.83,2.25],[1.00,2.25],
  [0.58,2.45],[0.73,2.45],[0.90,2.45],
];
const stdSparse = [
  [-0.78,2.7],[-1.00,2.7],[-1.20,2.7],[-1.45,2.7],[-1.65,2.7],
  [-0.85,2.9],[-1.05,2.9],[-1.25,2.9],[-1.50,2.9],[-1.75,2.9],
  [-0.95,3.1],[-1.15,3.1],[-1.35,3.1],[-1.55,3.1],[-1.80,3.1],[-2.00,3.1],
  [-1.00,3.3],[-1.20,3.3],[-1.40,3.3],[-1.65,3.3],[-1.85,3.3],[-2.05,3.3],
  [-1.10,3.5],[-1.30,3.5],[-1.50,3.5],[-1.70,3.5],[-1.90,3.5],[-2.10,3.5],
  [-1.15,3.7],[-1.35,3.7],[-1.55,3.7],[-1.75,3.7],[-2.00,3.7],[-2.20,3.7],
  [-1.20,3.9],[-1.40,3.9],[-1.60,3.9],[-1.80,3.9],[-2.00,3.9],[-2.25,3.9],
  [0.62,2.7],[0.85,2.7],[1.10,2.7],[1.35,2.7],[1.60,2.7],
  [0.68,2.9],[0.80,2.9],[1.00,2.9],[1.25,2.9],[1.50,2.9],[1.75,2.9],
  [0.72,3.1],[0.90,3.1],[1.15,3.1],[1.40,3.1],[1.65,3.1],[1.95,3.1],
  [0.78,3.3],[0.95,3.3],[1.10,3.3],[1.35,3.3],[1.60,3.3],[1.90,3.3],[2.15,3.3],
  [0.82,3.5],[1.00,3.5],[1.25,3.5],[1.50,3.5],[1.80,3.5],[2.05,3.5],[2.35,3.5],
  [0.88,3.7],[1.05,3.7],[1.20,3.7],[1.45,3.7],[1.70,3.7],[2.00,3.7],[2.30,3.7],
  [0.92,3.9],[1.10,3.9],[1.35,3.9],[1.60,3.9],[1.90,3.9],[2.20,3.9],[2.45,3.9],
];
const stdSparseMid = [
  [-0.80,2.8],[-1.00,2.8],[-1.15,2.8],[-1.35,2.8],[-1.60,2.8],
  [-0.90,3.0],[-1.10,3.0],[-1.30,3.0],[-1.45,3.0],[-1.70,3.0],[-1.90,3.0],
  [-0.98,3.2],[-1.15,3.2],[-1.30,3.2],[-1.50,3.2],[-1.70,3.2],[-1.95,3.2],
  [-1.05,3.4],[-1.25,3.4],[-1.45,3.4],[-1.60,3.4],[-1.80,3.4],[-2.00,3.4],
  [-1.12,3.6],[-1.28,3.6],[-1.45,3.6],[-1.65,3.6],[-1.88,3.6],[-2.15,3.6],
  [-1.18,3.8],[-1.32,3.8],[-1.50,3.8],[-1.70,3.8],[-1.92,3.8],[-2.15,3.8],
  [-1.25,4.0],[-1.40,4.0],[-1.55,4.0],[-1.75,4.0],[-1.95,4.0],[-2.10,4.0],
  [0.65,2.8],[0.80,2.8],[0.98,2.8],[1.20,2.8],[1.45,2.8],[1.70,2.8],
  [0.70,3.0],[0.85,3.0],[1.05,3.0],[1.30,3.0],[1.55,3.0],[1.85,3.0],
  [0.75,3.2],[0.90,3.2],[1.05,3.2],[1.25,3.2],[1.50,3.2],[1.80,3.2],[2.05,3.2],
  [0.80,3.4],[0.92,3.4],[1.15,3.4],[1.40,3.4],[1.70,3.4],[1.95,3.4],[2.25,3.4],
  [0.85,3.6],[1.00,3.6],[1.15,3.6],[1.35,3.6],[1.60,3.6],[1.90,3.6],[2.20,3.6],[2.50,3.6],
  [0.90,3.8],[1.05,3.8],[1.25,3.8],[1.50,3.8],[1.80,3.8],[2.10,3.8],[2.40,3.8],[2.70,3.8],
  [0.95,4.0],[1.10,4.0],[1.30,4.0],[1.55,4.0],[1.85,4.0],[2.15,4.0],[2.40,4.0],
];

const FONT = '"Liberation Sans", Arial, Helvetica, sans-serif';

const panels = {
  expChart: {
    letter: "A", letterX: 30, title: "Experimental Therapy (EXP)", fdr: expFdr,
    genes: expGenes, legend: legendLabels.exp, legendSide: "left",
    yTickGap: 29, yTitleGap: 60,
  },
  stdChart: {
    letter: "B", letterX: 26, title: "Standard Therapy (STD)", fdr: stdFdr,
    genes: stdGenes, legend: legendLabels.std, legendSide: "right",
    yTickGap: 29, yTitleGap: 52,
  },
};

const volcanoDecor = {
  id: "volcanoDecor",
  afterDraw(chart) {
    const p = panels[chart.canvas.id];
    const { ctx, chartArea: a } = chart;
    const xs = chart.scales.x, ys = chart.scales.y;
    ctx.save();

    // FDR line
    const fy = Math.round(ys.getPixelForValue(p.fdr)) + 0.5;
    ctx.strokeStyle = "#000";
    ctx.lineWidth = 1.8;
    ctx.setLineDash([8, 5]);
    ctx.beginPath();
    ctx.moveTo(a.left, fy);
    ctx.lineTo(a.right, fy);
    ctx.stroke();
    ctx.setLineDash([]);
    ctx.fillStyle = "#111";
    ctx.font = "bold 11px " + FONT;
    ctx.textAlign = "left";
    ctx.textBaseline = "middle";
    ctx.fillText("FDR = .05", a.right + 5, fy + 4);

    // box
    ctx.strokeStyle = "#555";
    ctx.lineWidth = 1;
    ctx.strokeRect(a.left + 0.5, a.top + 0.5, a.right - a.left, a.bottom - a.top);

    // x axis
    ctx.fillStyle = "#222";
    ctx.font = "15px " + FONT;
    ctx.textAlign = "center";
    xTickVals.forEach((v) => {
      const px = Math.round(xs.getPixelForValue(v)) + 0.5;
      ctx.beginPath();
      ctx.moveTo(px, a.bottom);
      ctx.lineTo(px, a.bottom + 10);
      ctx.stroke();
      ctx.fillText(String(v), px, a.bottom + 33);
    });
    const cx = (a.left + a.right) / 2;
    ctx.font = "17px " + FONT;
    ctx.fillText("log (fold-change)", cx, a.bottom + 60);

    // y axis
    ctx.font = "15px " + FONT;
    yTickVals.forEach((v) => {
      const py = Math.round(ys.getPixelForValue(v)) + 0.5;
      ctx.beginPath();
      ctx.moveTo(a.left - 10, py);
      ctx.lineTo(a.left, py);
      ctx.stroke();
      ctx.save();
      ctx.translate(a.left - p.yTickGap, py);
      ctx.rotate(-Math.PI / 2);
      ctx.fillText(String(v), 0, 0);
      ctx.restore();
    });
    ctx.save();
    ctx.translate(a.left - p.yTitleGap, (a.top + a.bottom) / 2);
    ctx.rotate(-Math.PI / 2);
    ctx.font = "17px " + FONT;
    ctx.fillText("- log10 (unadjusted p-value)", 0, 0);
    ctx.restore();

    // titles
    ctx.fillStyle = "#000";
    ctx.font = "bold 20.5px " + FONT;
    ctx.fillText(p.title, cx + 2, 26);
    ctx.font = "22px " + FONT;
    ctx.fillText(p.letter, p.letterX, 22);

    // gene labels
    ctx.fillStyle = "#b0b0b0";
    ctx.font = "11.5px " + FONT;
    p.genes.forEach(([name, gx, gy]) => {
      ctx.fillText(name, xs.getPixelForValue(gx), ys.getPixelForValue(gy) - 13);
    });

    // legend
    ctx.font = "14px " + FONT;
    ctx.textAlign = "left";
    const w = Math.max(...p.legend.map((t) => ctx.measureText(t).width));
    const tx = p.legendSide === "left" ? a.left + 19 : a.right - 4 - w;
    ["#ff0000", "#0000ff"].forEach((col, i) => {
      const ly = a.top + 16 + i * 16;
      ctx.fillStyle = col;
      ctx.beginPath();
      ctx.arc(tx - 8, ly, 2.6, 0, Math.PI * 2);
      ctx.fill();
      ctx.fillStyle = "#222";
      ctx.fillText(p.legend[i], tx, ly);
    });
    ctx.restore();
  },
};

function pts(arr) {
  return arr.map(([x, y]) => ({ x, y }));
}

// grey haze gets lighter further from the dense core
function hazeColor(c) {
  const v = c.raw ? c.raw.y : 0;
  return v < 3.1 ? "rgba(0,0,0,0.6)" : "rgba(0,0,0,0.4)";
}

function makeVolcano(id, sets, range, pad) {
  return new Chart(document.getElementById(id), {
    type: "scatter",
    data: {
      datasets: [
        { data: pts(sets.hyper), backgroundColor: "#ff0000", pointRadius: 2.1 },
        { data: pts(sets.hypo), backgroundColor: "#0000ff", pointRadius: 2.1 },
        { data: pts(sets.edge), backgroundColor: "#000", pointRadius: 1.3 },
        { data: pts(sets.core), backgroundColor: "#000", pointRadius: 2.6 },
        { data: pts(sets.sparse), backgroundColor: hazeColor, pointRadius: 1 },
      ],
    },
    options: {
      responsive: false,
      animation: false,
      devicePixelRatio: 1,
      events: [],
      layout: { padding: pad },
      elements: { point: { borderWidth: 0, hoverRadius: 0 } },
      scales: {
        x: { type: "linear", min: range.x[0], max: range.x[1], display: false },
        y: { type: "linear", min: range.y[0], max: range.y[1], display: false },
      },
      plugins: { legend: { display: false }, tooltip: { enabled: false } },
    },
    plugins: [volcanoDecor],
  });
}

makeVolcano(
  "expChart",
  {
    hyper: expHyper, hypo: expHypo, edge: expEdge,
    core: expCore.concat(expCoreMid), sparse: expSparse.concat(expSparseMid),
  },
  { x: [-6.69, 6.68], y: [-0.86, 21.83] },
  { left: 79, right: 70, top: 52, bottom: 70 }
);
makeVolcano(
  "stdChart",
  {
    hyper: stdHyper, hypo: stdHypo.concat(stdHypoMid), edge: stdEdge,
    core: stdCore.concat(stdCoreMid), sparse: stdSparse.concat(stdSparseMid),
  },
  { x: [-6.71, 6.65], y: [-0.83, 21.75] },
  { left: 76, right: 56, top: 47, bottom: 75 }
);
</script>
</body>
</html>
